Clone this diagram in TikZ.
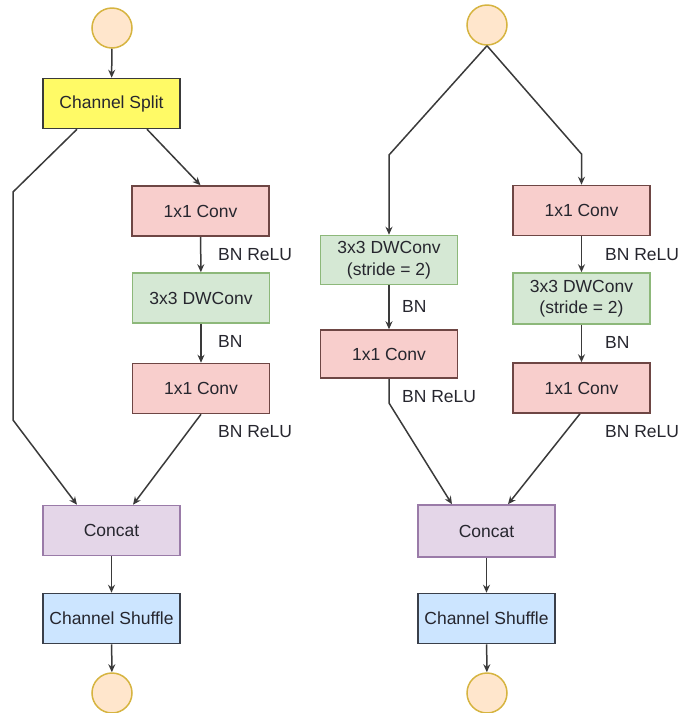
\documentclass[tikz,border=0pt]{standalone}
\usepackage{fontspec}
\setmainfont{Liberation Sans}
\usetikzlibrary{arrows.meta}
\definecolor{txt}{HTML}{26262E}
\definecolor{linec}{HTML}{3A3A3A}
\definecolor{circF}{HTML}{FFE6CC}
\definecolor{circD}{HTML}{D6B440}
\definecolor{splitF}{HTML}{FFFA66}
\definecolor{splitD}{HTML}{3A3A3A}
\definecolor{convF}{HTML}{F8CECC}
\definecolor{convD}{HTML}{6E4644}
\definecolor{dwF}{HTML}{D5E8D4}
\definecolor{dwD}{HTML}{8DB87A}
\definecolor{catF}{HTML}{E4D6E8}
\definecolor{catD}{HTML}{9A7BA8}
\definecolor{shufF}{HTML}{CCE5FF}
\definecolor{shufD}{HTML}{3A3F4A}
\tikzset{
  box/.style={rectangle, minimum width=137pt, minimum height=50pt, inner sep=0pt, line width=1.5pt, text=txt, font=\fontsize{17.5}{21.5}\selectfont, align=center},
  splitbox/.style={box, fill=splitF, draw=splitD},
  convbox/.style={box, fill=convF, draw=convD},
  dwbox/.style={box, fill=dwF, draw=dwD},
  catbox/.style={box, fill=catF, draw=catD},
  shufbox/.style={box, fill=shufF, draw=shufD},
  io/.style={circle, minimum size=40pt, inner sep=0pt, fill=circF, draw=circD, line width=1.5pt},
  lbl/.style={anchor=west, inner sep=0pt, text=txt, font=\fontsize{17.5}{21.5}\selectfont},
  arr/.style={draw=linec, line width=1.5pt, -{Stealth[length=8pt,width=7pt]}}
}
\begin{document}
\begin{tikzpicture}[x=1pt,y=-1pt]
\useasboundingbox (0,0) rectangle (683,713);
% ---------- left unit ----------
\node[io] (inL) at (112,28) {};
\node[splitbox] (split) at (111.5,103.5) {Channel Split};
\node[convbox] (cL1) at (200.5,211) {1x1 Conv};
\node[dwbox] (dwL) at (201,298) {3x3 DWConv};
\node[convbox] (cL2) at (201,388.5) {1x1 Conv};
\node[catbox] (catL) at (111.5,530.5) {Concat};
\node[shufbox] (shL) at (111.5,618.5) {Channel Shuffle};
\node[io] (outL) at (112,693) {};
\node[lbl] (lL1) at (218,255) {BN ReLU};
\node[lbl] (lL2) at (218,341) {BN};
\node[lbl] (lL3) at (218,432) {BN ReLU};
\coordinate (bL1) at (13,192);
\coordinate (bL2) at (13,420);
\draw[arr] (inL) -- (split);
\draw[arr] ([xshift=-34.5pt]split.south) -- (bL1) -- (bL2) -- ([xshift=-34.5pt]catL.north);
\draw[arr] ([xshift=35.5pt]split.south) -- (cL1.north);
\draw[arr] (cL1) -- (dwL);
\draw[arr] (dwL) -- (cL2);
\draw[arr] (cL2.south) -- ([xshift=21.5pt]catL.north);
\draw[arr] (catL) -- (shL);
\draw[arr] (shL) -- (outL);
% ---------- right unit ----------
\node[io] (inR) at (487,25) {};
\node[dwbox, minimum height=49pt] (dwR1) at (389,260) {3x3 DWConv\\(stride = 2)};
\node[convbox, minimum height=48pt] (cR1) at (389,354) {1x1 Conv};
\node[convbox] (cR2) at (581.5,210.5) {1x1 Conv};
\node[dwbox, minimum height=51pt] (dwR2) at (581.5,298.5) {3x3 DWConv\\(stride = 2)};
\node[convbox] (cR3) at (581.5,388) {1x1 Conv};
\node[catbox, minimum height=52pt] (catR) at (486.5,531) {Concat};
\node[shufbox] (shR) at (486.5,618.5) {Channel Shuffle};
\node[io] (outR) at (487,693) {};
\node[lbl] (lR1) at (402,306) {BN};
\node[lbl] (lR2) at (402,397) {BN ReLU};
\node[lbl] (lR3) at (605,255) {BN ReLU};
\node[lbl] (lR4) at (605,342) {BN};
\node[lbl] (lR5) at (605,432) {BN ReLU};
\coordinate (bR1) at (389,155);
\coordinate (bR2) at (581.5,154);
\coordinate (bR3) at (389,403);
\draw[arr] (inR.south) -- (bR1) -- (dwR1.north);
\draw[arr] (inR.south) -- (bR2) -- (cR2.north);
\draw[arr] (dwR1) -- (cR1);
\draw[arr] (cR1.south) -- (bR3) -- ([xshift=-34.5pt]catR.north);
\draw[arr] (cR2) -- (dwR2);
\draw[arr] (dwR2) -- (cR3);
\draw[arr] ([xshift=-1.5pt]cR3.south) -- ([xshift=21.5pt]catR.north);
\draw[arr] (catR) -- (shR);
\draw[arr] (shR) -- (outR);
\end{tikzpicture}
\end{document}
